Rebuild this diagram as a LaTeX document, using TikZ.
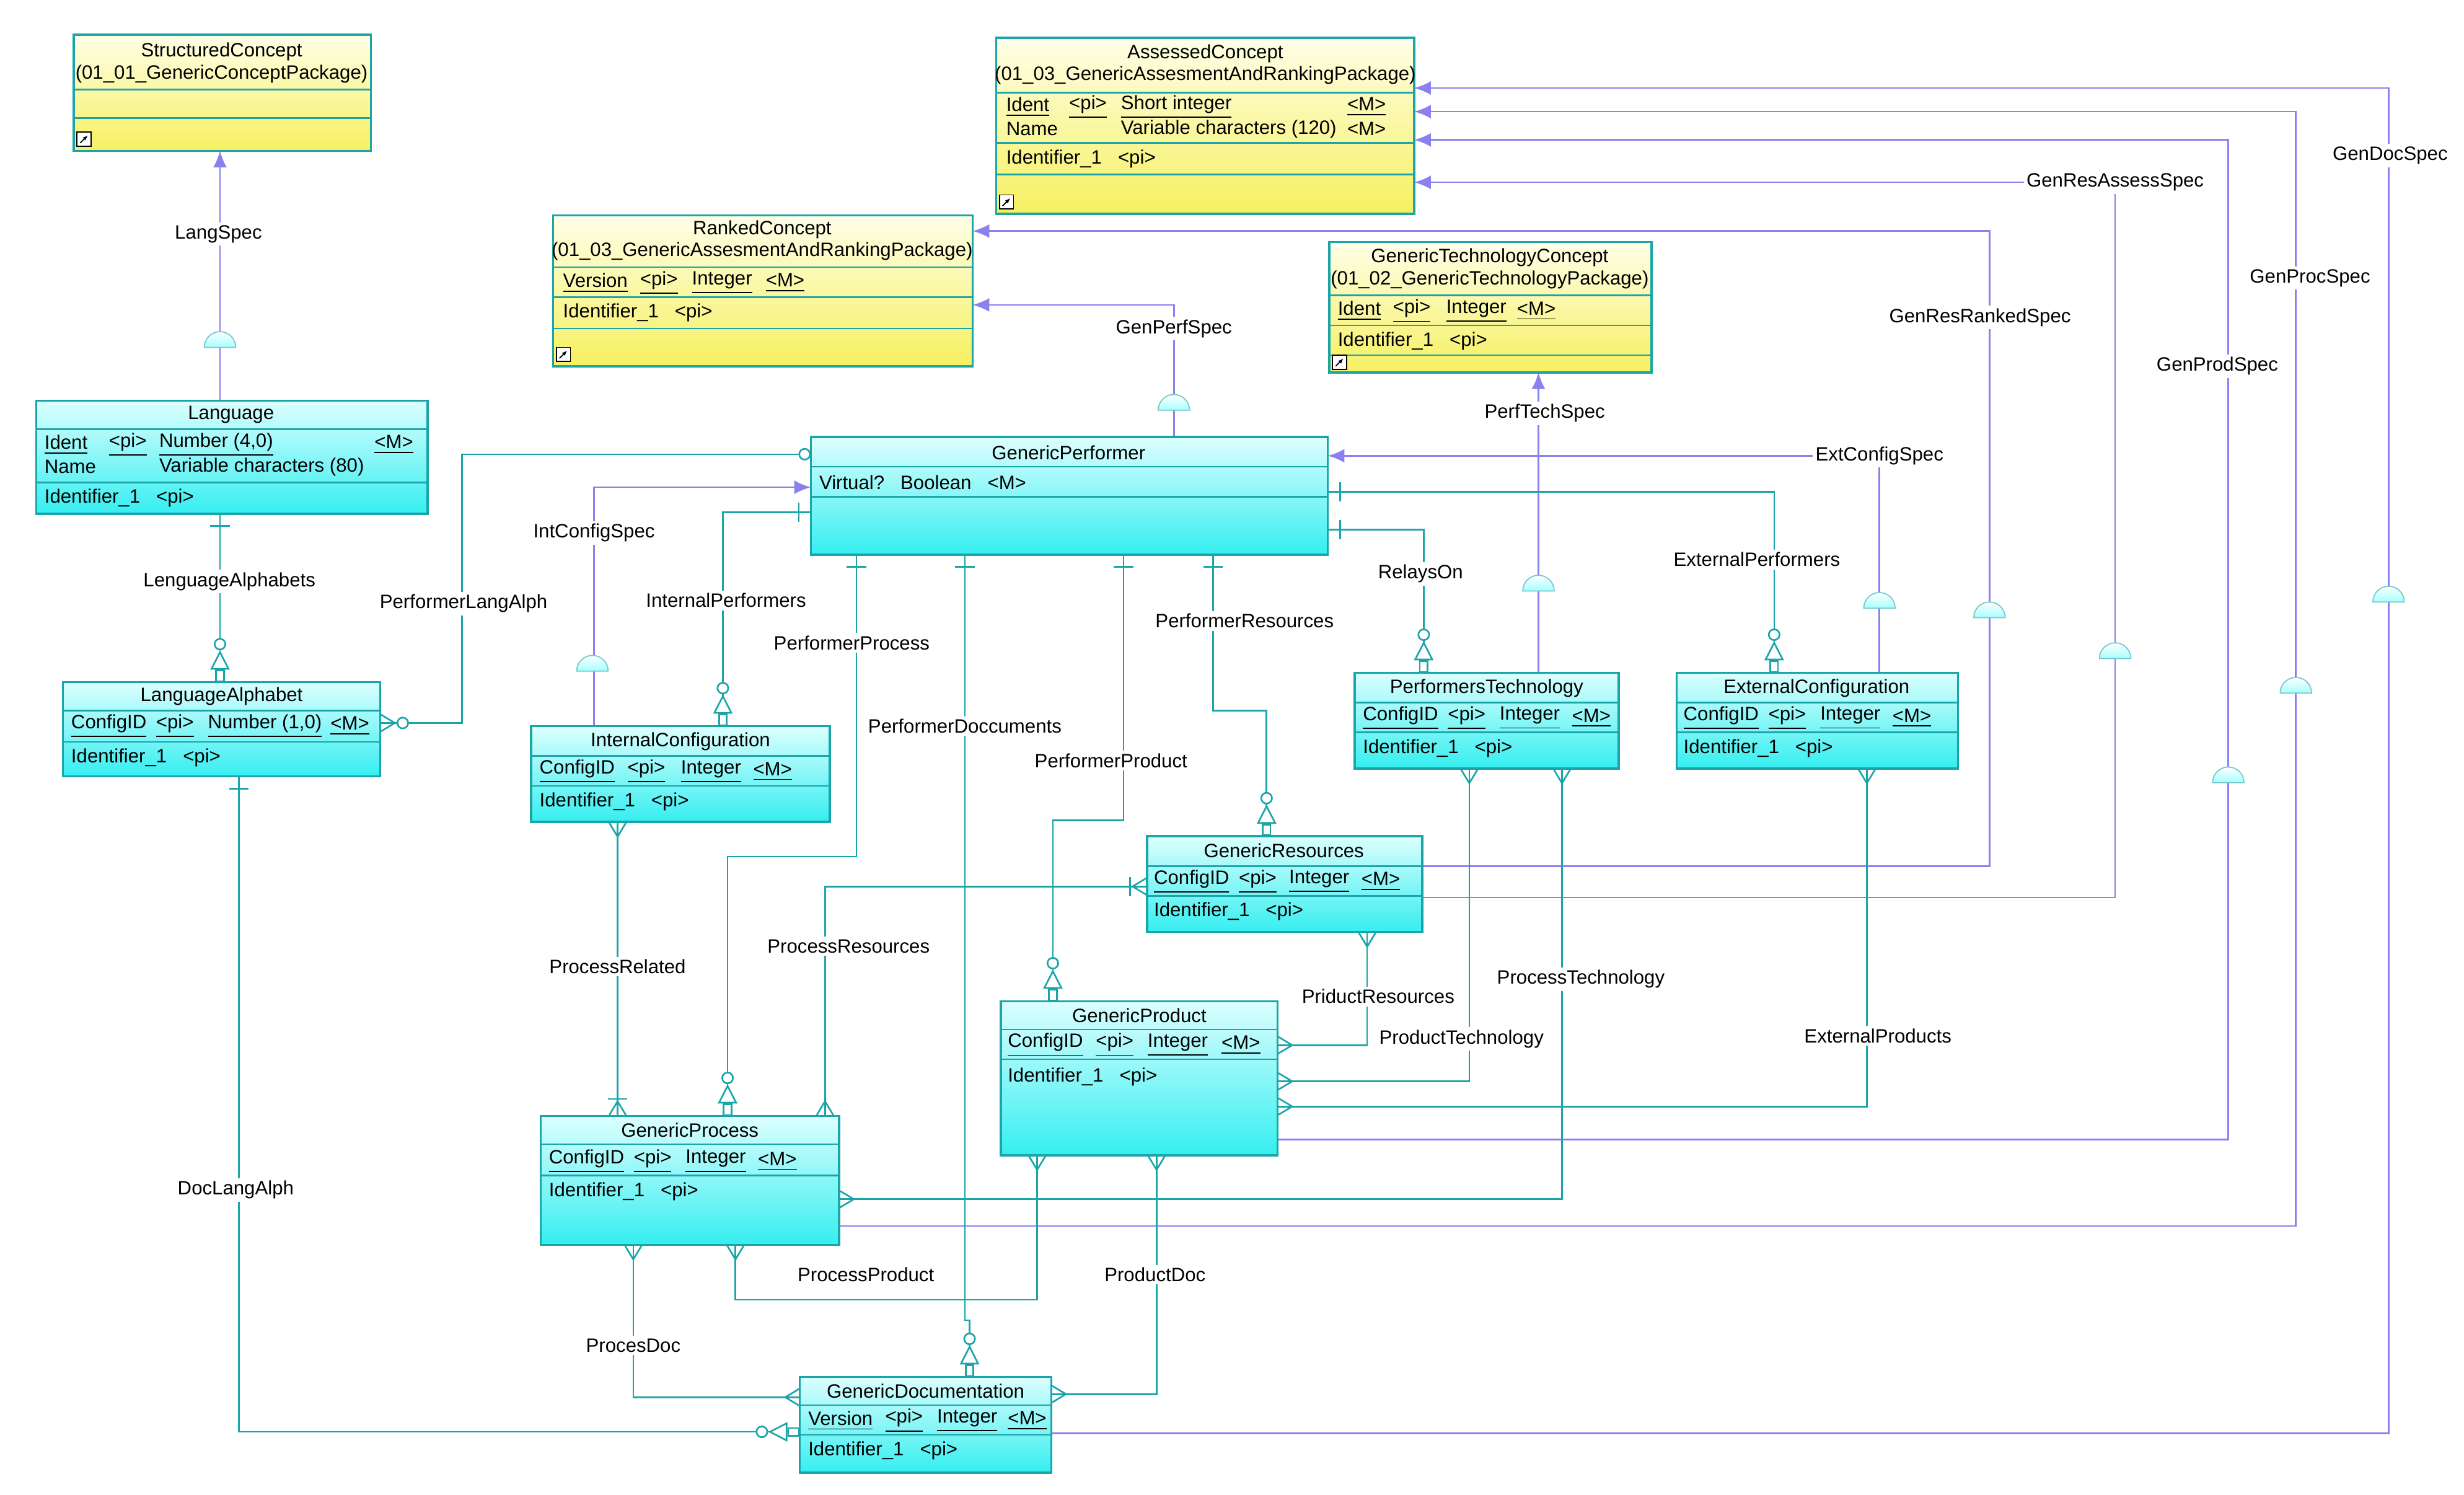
\documentclass[tikz,border=0pt]{standalone}
\usepackage{fontspec}
\setmainfont{Liberation Sans}
\usetikzlibrary{arrows.meta,fit}
\definecolor{tl}{HTML}{1AA5A8}
\definecolor{pu}{HTML}{8A80EE}
\definecolor{cyt}{HTML}{DDFFFF}
\definecolor{cyb}{HTML}{35EEF0}
\definecolor{yet}{HTML}{FFFFE8}
\definecolor{yeb}{HTML}{F6F060}
\newcommand\ent[6]{\node[#6, fit={(#2,#3)(#4,#5)}] (#1) {};}
\newcommand\tx[3]{\node[anchor=west,inner sep=0] at (#1,#2) {#3};}
\newcommand\tc[3]{\node[inner sep=0] at (#1,#2) {#3};}
\newcommand\hl[3]{\draw[tl,line width=0.6pt] (#1,#3) -- (#2,#3);}
\newcommand\ul[1]{\underline{#1}}
\newcommand\semi[2]{\filldraw[draw=tl!60,top color=white,bottom color=cyan!35,line width=0.4pt] (#1-10,#2) arc[start angle=180,end angle=360,radius=10] -- cycle;}
\newcommand\icon[2]{\draw[black,fill=white,line width=0.4pt] (#1,#2) rectangle ++(9,-9); \draw[black,-{Latex[length=2pt]}] (#1+2,#2-2) -- (#1+7,#2-7);}
\tikzset{
 crow/.tip={Straight Barb[reversed,length=5pt,width=6pt]},
 mcrow/.tip={Bar[width=7pt]crow},
 oneb/.tip={Bar[width=7pt,sep=4pt]Bar[width=0.2pt,line width=0.1pt]},
 dep/.tip={Circle[open,length=4.5pt,width=4.5pt,fill=white]Triangle[open,reversed,length=7pt,width=7pt,fill=white]Rectangle[open,length=4.5pt,width=3.4pt]},
}
\begin{document}
\begin{tikzpicture}[x=0.02cm,y=-0.02cm,font=\fontsize{7}{8.4}\selectfont,
 ce/.style={draw=tl,line width=0.8pt,top color=cyt,bottom color=cyb,inner sep=0,shading angle=0},
 ye/.style={draw=tl,line width=0.8pt,top color=yet,bottom color=yeb,inner sep=0},
 rel/.style={draw=tl,line width=0.6pt},
 crel/.style={rel,preaction={draw=tl,line width=0.6pt,arrows=-}},
 spec/.style={draw=pu,line width=0.6pt},
 sp/.style={spec,-{Latex[length=6pt,width=5pt]}}]
\useasboundingbox (0,0) rectangle (1568,951);

% ---------- specialization lines (purple) ----------
\draw[sp] (140,255) -- (140,96);
\draw[sp] (747,278) -- (747,194) -- (619,194);
\draw[sp] (905,551) -- (1266,551) -- (1266,147) -- (619,147);
\draw[sp] (905,571) -- (1346,571) -- (1346,116) -- (900,116);
\draw[sp] (813,725) -- (1418,725) -- (1418,89) -- (900,89);
\draw[sp] (534,780) -- (1461,780) -- (1461,71) -- (900,71);
\draw[sp] (669,912) -- (1520,912) -- (1520,56) -- (900,56);
\draw[sp] (979,428) -- (979,237);
\draw[sp] (1196,428) -- (1196,290) -- (845,290);
\draw[sp] (378,462) -- (378,310) -- (516,310);

% ---------- relationships (teal) ----------
\draw[rel,{oneb}-{dep}] (140,327) -- (140,434);
\draw[crel,{Circle[open,length=4.5pt,width=4.5pt,fill=white]}-{Circle[open,length=4.5pt,width=4.5pt,fill=white]crow}] (516,289) -- (294,289) -- (294,460) -- (242,460);
\draw[rel,{oneb}-{dep}] (516,326) -- (460,326) -- (460,462);
\draw[rel,{oneb}-{dep}] (545,353) -- (545,545) -- (463,545) -- (463,710);
\draw[rel,{oneb}-{dep}] (614,353) -- (614,840) -- (617,840) -- (617,876);
\draw[rel,{oneb}-{dep}] (715,353) -- (715,522) -- (670,522) -- (670,637);
\draw[rel,{oneb}-{dep}] (772,353) -- (772,452) -- (806,452) -- (806,532);
\draw[rel,{oneb}-{dep}] (845,337) -- (906,337) -- (906,428);
\draw[rel,{oneb}-{dep}] (845,313) -- (1129,313) -- (1129,428);
\draw[rel,{oneb}-{dep}] (152,494) -- (152,911) -- (509,911);
\draw[crel,{crow}-{mcrow}] (393,523) -- (393,710);
\draw[crel,{mcrow}-{crow}] (730,564) -- (525,564) -- (525,710);
\draw[crel,{crow}-{crow}] (870,593) -- (870,665) -- (813,665);
\draw[crel,{crow}-{crow}] (935,489) -- (935,688) -- (813,688);
\draw[crel,{crow}-{crow}] (994,489) -- (994,763) -- (534,763);
\draw[crel,{crow}-{crow}] (1188,489) -- (1188,704) -- (813,704);
\draw[crel,{crow}-{crow}] (468,792) -- (468,827) -- (660,827) -- (660,735);
\draw[crel,{crow}-{crow}] (736,735) -- (736,887) -- (669,887);
\draw[crel,{crow}-{crow}] (403,792) -- (403,889) -- (509,889);

% ---------- semicircles ----------
\semi{140}{221}\semi{747}{261}\semi{377}{427}\semi{979}{376}\semi{1196}{387}
\semi{1266}{393}\semi{1346}{419}\semi{1418}{498}\semi{1461}{441}\semi{1520}{383}

% ---------- entities ----------
\ent{sc}{47}{22}{236}{96}{ye}
\tc{141}{33}{StructuredConcept}\tc{141}{47}{(01\_01\_GenericConceptPackage)}
\hl{47}{236}{57}\hl{47}{236}{75}\icon{49}{93}
\ent{ac}{634}{24}{900}{136}{ye}
\tc{767}{34}{AssessedConcept}\tc{767}{48}{(01\_03\_GenericAssesmentAndRankingPackage)}
\hl{634}{900}{59}
\tx{640}{68}{\ul{Ident}}\tx{680}{68}{\ul{<pi>}}\tx{713}{68}{\ul{Short integer}}\tx{857}{68}{\ul{<M>}}
\tx{640}{82}{Name}\tx{713}{82}{Variable characters (120)}\tx{857}{82}{<M>}
\hl{634}{900}{91}\tx{640}{101}{Identifier\_1\ \ \ <pi>}\hl{634}{900}{111}\icon{636}{133}
\ent{rc}{352}{137}{619}{233}{ye}
\tc{485}{146}{RankedConcept}\tc{485}{160}{(01\_03\_GenericAssesmentAndRankingPackage)}
\hl{352}{619}{170}
\tx{358}{180}{\ul{Version}}\tx{407}{180}{\ul{<pi>}}\tx{440}{180}{\ul{Integer}}\tx{487}{180}{\ul{<M>}}
\hl{352}{619}{189}\tx{358}{199}{Identifier\_1\ \ \ <pi>}\hl{352}{619}{209}\icon{354}{230}
\ent{gtc}{846}{154}{1051}{237}{ye}
\tc{948}{164}{GenericTechnologyConcept}\tc{948}{178}{(01\_02\_GenericTechnologyPackage)}
\hl{846}{1051}{188}
\tx{851}{198}{\ul{Ident}}\tx{886}{198}{\ul{<pi>}}\tx{920}{198}{\ul{Integer}}\tx{965}{198}{\ul{<M>}}
\hl{846}{1051}{207}\tx{851}{217}{Identifier\_1\ \ \ <pi>}\hl{846}{1051}{226}\icon{848}{235}
\ent{lang}{23}{255}{272}{327}{ce}
\tc{147}{264}{Language}\hl{23}{272}{273}
\tx{28}{283}{\ul{Ident}}\tx{69}{283}{\ul{<pi>}}\tx{101}{283}{\ul{Number (4,0)}}\tx{238}{283}{\ul{<M>}}
\tx{28}{297}{Name}\tx{101}{297}{Variable characters (80)}
\hl{23}{272}{307}\tx{28}{317}{Identifier\_1\ \ \ <pi>}
\ent{gp}{516}{278}{845}{353}{ce}
\tc{680}{288}{GenericPerformer}\hl{516}{845}{297}
\tx{521}{307}{Virtual?\ \ \ Boolean\ \ \ <M>}\hl{516}{845}{316}
\ent{la}{40}{434}{242}{494}{ce}
\tc{141}{443}{LanguageAlphabet}\hl{40}{242}{452}
\tx{45}{462}{\ul{ConfigID}}\tx{99}{462}{\ul{<pi>}}\tx{132}{462}{\ul{Number (1,0)}}\tx{210}{462}{\ul{<M>}}
\hl{40}{242}{472}\tx{45}{482}{Identifier\_1\ \ \ <pi>}
\ent{ic}{338}{462}{528}{523}{ce}
\tc{433}{472}{InternalConfiguration}\hl{338}{528}{481}
\tx{343}{491}{\ul{ConfigID}}\tx{399}{491}{\ul{<pi>}}\tx{433}{491}{\ul{Integer}}\tx{479}{491}{\ul{<M>}}
\hl{338}{528}{500}\tx{343}{510}{Identifier\_1\ \ \ <pi>}
\ent{pt}{862}{428}{1030}{489}{ce}
\tc{946}{438}{PerformersTechnology}\hl{862}{1030}{447}
\tx{867}{457}{\ul{ConfigID}}\tx{921}{457}{\ul{<pi>}}\tx{954}{457}{\ul{Integer}}\tx{1000}{457}{\ul{<M>}}
\hl{862}{1030}{466}\tx{867}{476}{Identifier\_1\ \ \ <pi>}
\ent{ec}{1067}{428}{1246}{489}{ce}
\tc{1156}{438}{ExternalConfiguration}\hl{1067}{1246}{447}
\tx{1071}{457}{\ul{ConfigID}}\tx{1125}{457}{\ul{<pi>}}\tx{1158}{457}{\ul{Integer}}\tx{1204}{457}{\ul{<M>}}
\hl{1067}{1246}{466}\tx{1071}{476}{Identifier\_1\ \ \ <pi>}
\ent{gr}{730}{532}{905}{593}{ce}
\tc{817}{541}{GenericResources}\hl{730}{905}{551}
\tx{734}{561}{\ul{ConfigID}}\tx{788}{561}{\ul{<pi>}}\tx{820}{561}{\ul{Integer}}\tx{866}{561}{\ul{<M>}}
\hl{730}{905}{570}\tx{734}{580}{Identifier\_1\ \ \ <pi>}
\ent{gpr}{637}{637}{813}{735}{ce}
\tc{725}{646}{GenericProduct}\hl{637}{813}{655}
\tx{641}{665}{\ul{ConfigID}}\tx{697}{665}{\ul{<pi>}}\tx{730}{665}{\ul{Integer}}\tx{777}{665}{\ul{<M>}}
\hl{637}{813}{674}\tx{641}{685}{Identifier\_1\ \ \ <pi>}
\ent{gps}{344}{710}{534}{792}{ce}
\tc{439}{719}{GenericProcess}\hl{344}{534}{728}
\tx{349}{739}{\ul{ConfigID}}\tx{403}{739}{\ul{<pi>}}\tx{436}{739}{\ul{Integer}}\tx{482}{739}{\ul{<M>}}
\hl{344}{534}{748}\tx{349}{758}{Identifier\_1\ \ \ <pi>}
\ent{gd}{509}{876}{669}{937}{ce}
\tc{589}{885}{GenericDocumentation}\hl{509}{669}{894}
\tx{514}{904}{\ul{Version}}\tx{563}{904}{\ul{<pi>}}\tx{596}{904}{\ul{Integer}}\tx{641}{904}{\ul{<M>}}
\hl{509}{669}{913}\tx{514}{923}{Identifier\_1\ \ \ <pi>}

% ---------- labels ----------
\begin{scope}[every node/.style={inner sep=1pt,fill=white}]
\node at (139,149) {LangSpec};
\node at (747,209) {GenPerfSpec};
\node at (1260,202) {GenResRankedSpec};
\node at (1346,116) {GenResAssessSpec};
\node at (1411,233) {GenProdSpec};
\node at (1470,177) {GenProcSpec};
\node at (1521,99) {GenDocSpec};
\node at (983,263) {PerfTechSpec};
\node at (1196,290) {ExtConfigSpec};
\node at (378,339) {IntConfigSpec};
\node at (146,370) {LenguageAlphabets};
\node at (295,384) {PerformerLangAlph};
\node at (462,382) {InternalPerformers};
\node at (542,409) {PerformerProcess};
\node at (614,462) {PerformerDoccuments};
\node at (707,484) {PerformerProduct};
\node at (792,395) {PerformerResources};
\node at (904,365) {RelaysOn};
\node at (1118,356) {ExternalPerformers};
\node at (393,615) {ProcessRelated};
\node at (540,602) {ProcessResources};
\node at (877,634) {PriductResources};
\node at (930,661) {ProductTechnology};
\node at (1006,623) {ProcessTechnology};
\node at (1195,659) {ExternalProducts};
\node at (551,811) {ProcessProduct};
\node at (735,811) {ProductDoc};
\node at (403,856) {ProcesDoc};
\node at (150,757) {DocLangAlph};
\end{scope}
\end{tikzpicture}
\end{document}
